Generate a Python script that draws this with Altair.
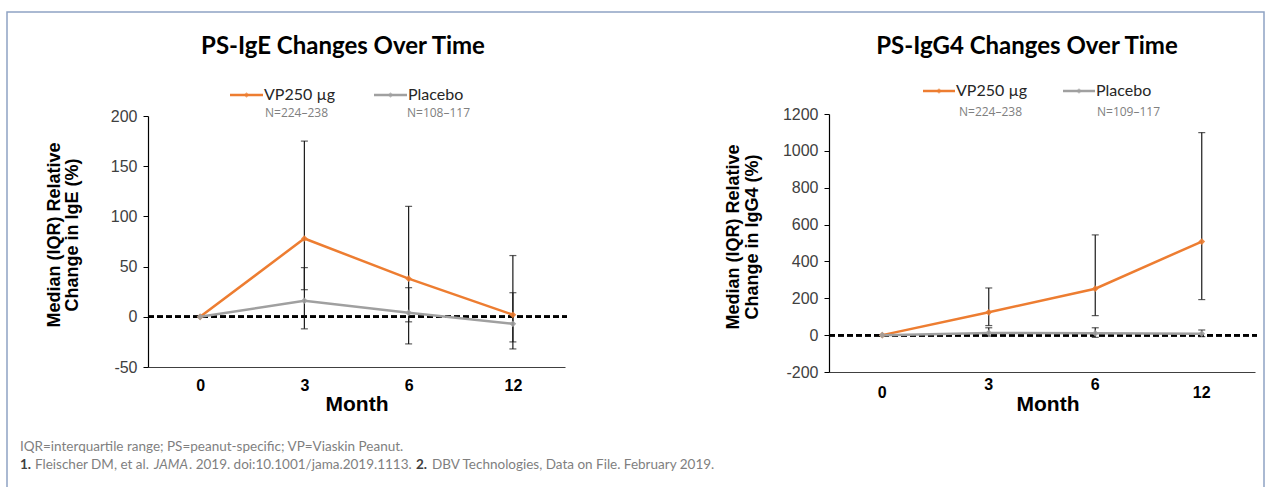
import altair as alt
import pandas as pd

# ---------------- data ----------------
months = ["0", "3", "6", "12"]
series_names = ["VP250 µg", "Placebo"]

ige_vp = [0, 78, 38, 2]
ige_vp_q1 = [None, 27, -27, -25]
ige_vp_q3 = [None, 175, 110, 61]
ige_pl = [0, 16, 4, -7]
ige_pl_q1 = [None, -12, -5, -32]
ige_pl_q3 = [None, 49, 29, 24]

igg4_vp = [0, 124, 252, 508]
igg4_vp_q1 = [None, 52, 106, 193]
igg4_vp_q3 = [None, 256, 544, 1099]
igg4_pl = [0, 12, 10, 8]
igg4_pl_q1 = [None, -5, -12, -8]
igg4_pl_q3 = [None, 40, 40, 28]

ige_ticks = [-50, 0, 50, 100, 150, 200]
igg4_ticks = [-200, 0, 200, 400, 600, 800, 1000, 1200]

# month labels of the right panel sit at two heights
igg4_low_labels = ["0", "12"]
igg4_high_labels = ["3", "6"]

ORANGE = "#ED7D31"
GRAY = "#A0A0A0"
color_scale = alt.Scale(domain=series_names, range=[ORANGE, GRAY])


def long_df(vp, vp1, vp3, pl, pl1, pl3):
    rows = []
    for name, v, q1, q3 in [(series_names[0], vp, vp1, vp3), (series_names[1], pl, pl1, pl3)]:
        for m, a, b, c in zip(months, v, q1, q3):
            rows.append({"month": m, "series": name, "value": a, "q1": b, "q3": c})
    return pd.DataFrame(rows)


ige_df = long_df(ige_vp, ige_vp_q1, ige_vp_q3, ige_pl, ige_pl_q1, ige_pl_q3)
igg4_df = long_df(igg4_vp, igg4_vp_q1, igg4_vp_q3, igg4_pl, igg4_pl_q1, igg4_pl_q3)

AX_FONT = "Liberation Sans"


def panel(df, xrange, yrange, ydomain, yticks, yoff, xoff, show_xlabels, extra_labels=None):
    xax = alt.Axis(orient="bottom", offset=xoff, title=None, ticks=False, grid=False,
                   labels=show_xlabels,
                   labelFont=AX_FONT, labelFontSize=16, labelFontWeight="bold",
                   labelColor="#000000", labelAngle=0, labelPadding=10,
                   domainColor="#404040", domainWidth=1.2)
    yax = alt.Axis(orient="left", offset=yoff, title=None, grid=False, values=yticks,
                   labelExpr="'' + datum.value",
                   tickSize=5, tickColor="#000000", domainColor="#000000", domainWidth=1.2,
                   labelFont=AX_FONT, labelFontSize=16, labelColor="#404040", labelPadding=6)
    xs = alt.Scale(type="point", domain=months, range=xrange, padding=0.5)
    ys = alt.Scale(domain=ydomain, range=yrange, nice=False, zero=False)
    X = alt.X("month:O", sort=months, scale=xs, axis=xax)
    base = alt.Chart(df)
    err = df.dropna(subset=["q1"])
    ebase = alt.Chart(err)
    zero = base.mark_rule(strokeDash=[6, 3], strokeWidth=2, color="#000000").encode(
        y=alt.Y(datum=0, type="quantitative", scale=ys, axis=yax),
        x=alt.value(xrange[0]), x2=alt.value(xrange[1] + 2))
    lines = base.mark_line(strokeWidth=2.5).encode(
        x=X, y=alt.Y("value:Q", scale=ys, axis=yax),
        color=alt.Color("series:N", scale=color_scale, legend=None),
        detail="series:N")
    pts = base.mark_point(filled=True, size=45, shape="diamond", opacity=0.9).encode(
        x=X, y=alt.Y("value:Q", scale=ys, axis=yax),
        color=alt.Color("series:N", scale=color_scale, legend=None))
    bars = ebase.mark_rule(color="#1a1a1a", strokeWidth=1.2).encode(
        x=X, y=alt.Y("q1:Q", scale=ys, axis=yax), y2="q3:Q")
    cap1 = ebase.mark_tick(color="#1a1a1a", size=7, thickness=1.2).encode(
        x=X, y=alt.Y("q1:Q", scale=ys, axis=yax))
    cap2 = ebase.mark_tick(color="#1a1a1a", size=7, thickness=1.2).encode(
        x=X, y=alt.Y("q3:Q", scale=ys, axis=yax))
    layers = [zero, lines, bars, cap1, cap2, pts]
    if extra_labels:
        for labs, ypix in extra_labels:
            layers.append(
                alt.Chart(pd.DataFrame({"month": labs})).mark_text(
                    font=AX_FONT, fontSize=16, fontWeight="bold", color="#000000",
                    baseline="middle", align="center"
                ).encode(x=X, y=alt.value(ypix), text="month:N"))
    return alt.layer(*layers)


left = panel(ige_df, [148, 565], [367, 116], [-50, 200], ige_ticks, -148, -120, True)
right = panel(igg4_df, [829, 1255], [372, 114], [-200, 1200], igg4_ticks, -829, -115, False,
              extra_labels=[(igg4_low_labels, 393), (igg4_high_labels, 385)])

one = pd.DataFrame({"k": [0]})


def txt(s, x, y, size, font="Lato", weight="normal", color="#000000", align="center",
        angle=0, style="normal"):
    return alt.Chart(one).mark_text(
        text=s, font=font, fontSize=size, fontWeight=weight, color=color, align=align,
        baseline="middle", angle=angle, fontStyle=style
    ).encode(x=alt.value(x), y=alt.value(y))


def legend_key(x1, x2, y, color):
    r = alt.Chart(one).mark_rule(color=color, strokeWidth=2.5).encode(
        x=alt.value(x1), x2=alt.value(x2), y=alt.value(y))
    p = alt.Chart(one).mark_point(filled=True, size=30, shape="diamond", color=color).encode(
        x=alt.value((x1 + x2) / 2), y=alt.value(y))
    return r + p


FN = 13.5
annots = [
    # border
    alt.Chart(one).mark_rect(fill=None, stroke="#8FA3C3", strokeWidth=1.5).encode(
        x=alt.value(7), x2=alt.value(1264), y=alt.value(12), y2=alt.value(520)),
    # titles
    txt("PS-IgE Changes Over Time", 343, 47, 24, weight="bold"),
    txt("PS-IgG4 Changes Over Time", 1027, 47, 24, weight="bold"),
    # legends
    legend_key(230, 263, 95, ORANGE),
    txt("VP250 µg", 264, 95, 16, color="#262626", align="left"),
    txt("N=224–238", 265, 113, 12, font="Open Sans", color="#808080", align="left"),
    legend_key(374, 407, 95, GRAY),
    txt("Placebo", 408, 95, 16, color="#262626", align="left"),
    txt("N=108–117", 407, 113, 12, font="Open Sans", color="#808080", align="left"),
    legend_key(923, 955, 91, ORANGE),
    txt("VP250 µg", 956, 91, 16, color="#262626", align="left"),
    txt("N=224–238", 959, 112, 12, font="Open Sans", color="#808080", align="left"),
    legend_key(1063, 1095, 91, GRAY),
    txt("Placebo", 1096, 91, 16, color="#262626", align="left"),
    txt("N=109–117", 1097, 112, 12, font="Open Sans", color="#808080", align="left"),
    # axis titles
    txt("Median (IQR) Relative", 55, 235, 18, font=AX_FONT, weight="bold", angle=270),
    txt("Change in IgE (%)", 73, 235, 18, font=AX_FONT, weight="bold", angle=270),
    txt("Median (IQR) Relative", 734, 237, 18, font=AX_FONT, weight="bold", angle=270),
    txt("Change in IgG4 (%)", 753, 237, 18, font=AX_FONT, weight="bold", angle=270),
    txt("Month", 357, 405, 21, font=AX_FONT, weight="bold"),
    txt("Month", 1048, 405, 21, font=AX_FONT, weight="bold"),
    # footnotes
    txt("IQR=interquartile range; PS=peanut-specific; VP=Viaskin Peanut.", 20, 447, FN,
        color="#7F7F7F", align="left"),
    txt("1.", 20, 465, FN, color="#404040", weight="bold", align="left"),
    txt("Fleischer DM, et al.", 35, 465, FN, color="#7F7F7F", align="left"),
    txt("JAMA", 154, 465, FN, color="#7F7F7F", align="left", style="italic"),
    txt(". 2019. doi:10.1001/jama.2019.1113.", 189, 465, FN, color="#7F7F7F", align="left"),
    txt("2.", 416, 465, FN, color="#404040", weight="bold", align="left"),
    txt("DBV Technologies, Data on File. February 2019.", 432, 465, FN, color="#7F7F7F",
        align="left"),
]

chart = alt.layer(left, right, *annots).resolve_scale(
    x="independent", y="independent"
).properties(
    width=1270, height=487, autosize=alt.AutoSizeParams(type="none"), padding=0,
    background="#FFFFFF"
).configure_view(stroke=None)

chart.save("out.html", embed_options={"renderer": "svg", "actions": False})
